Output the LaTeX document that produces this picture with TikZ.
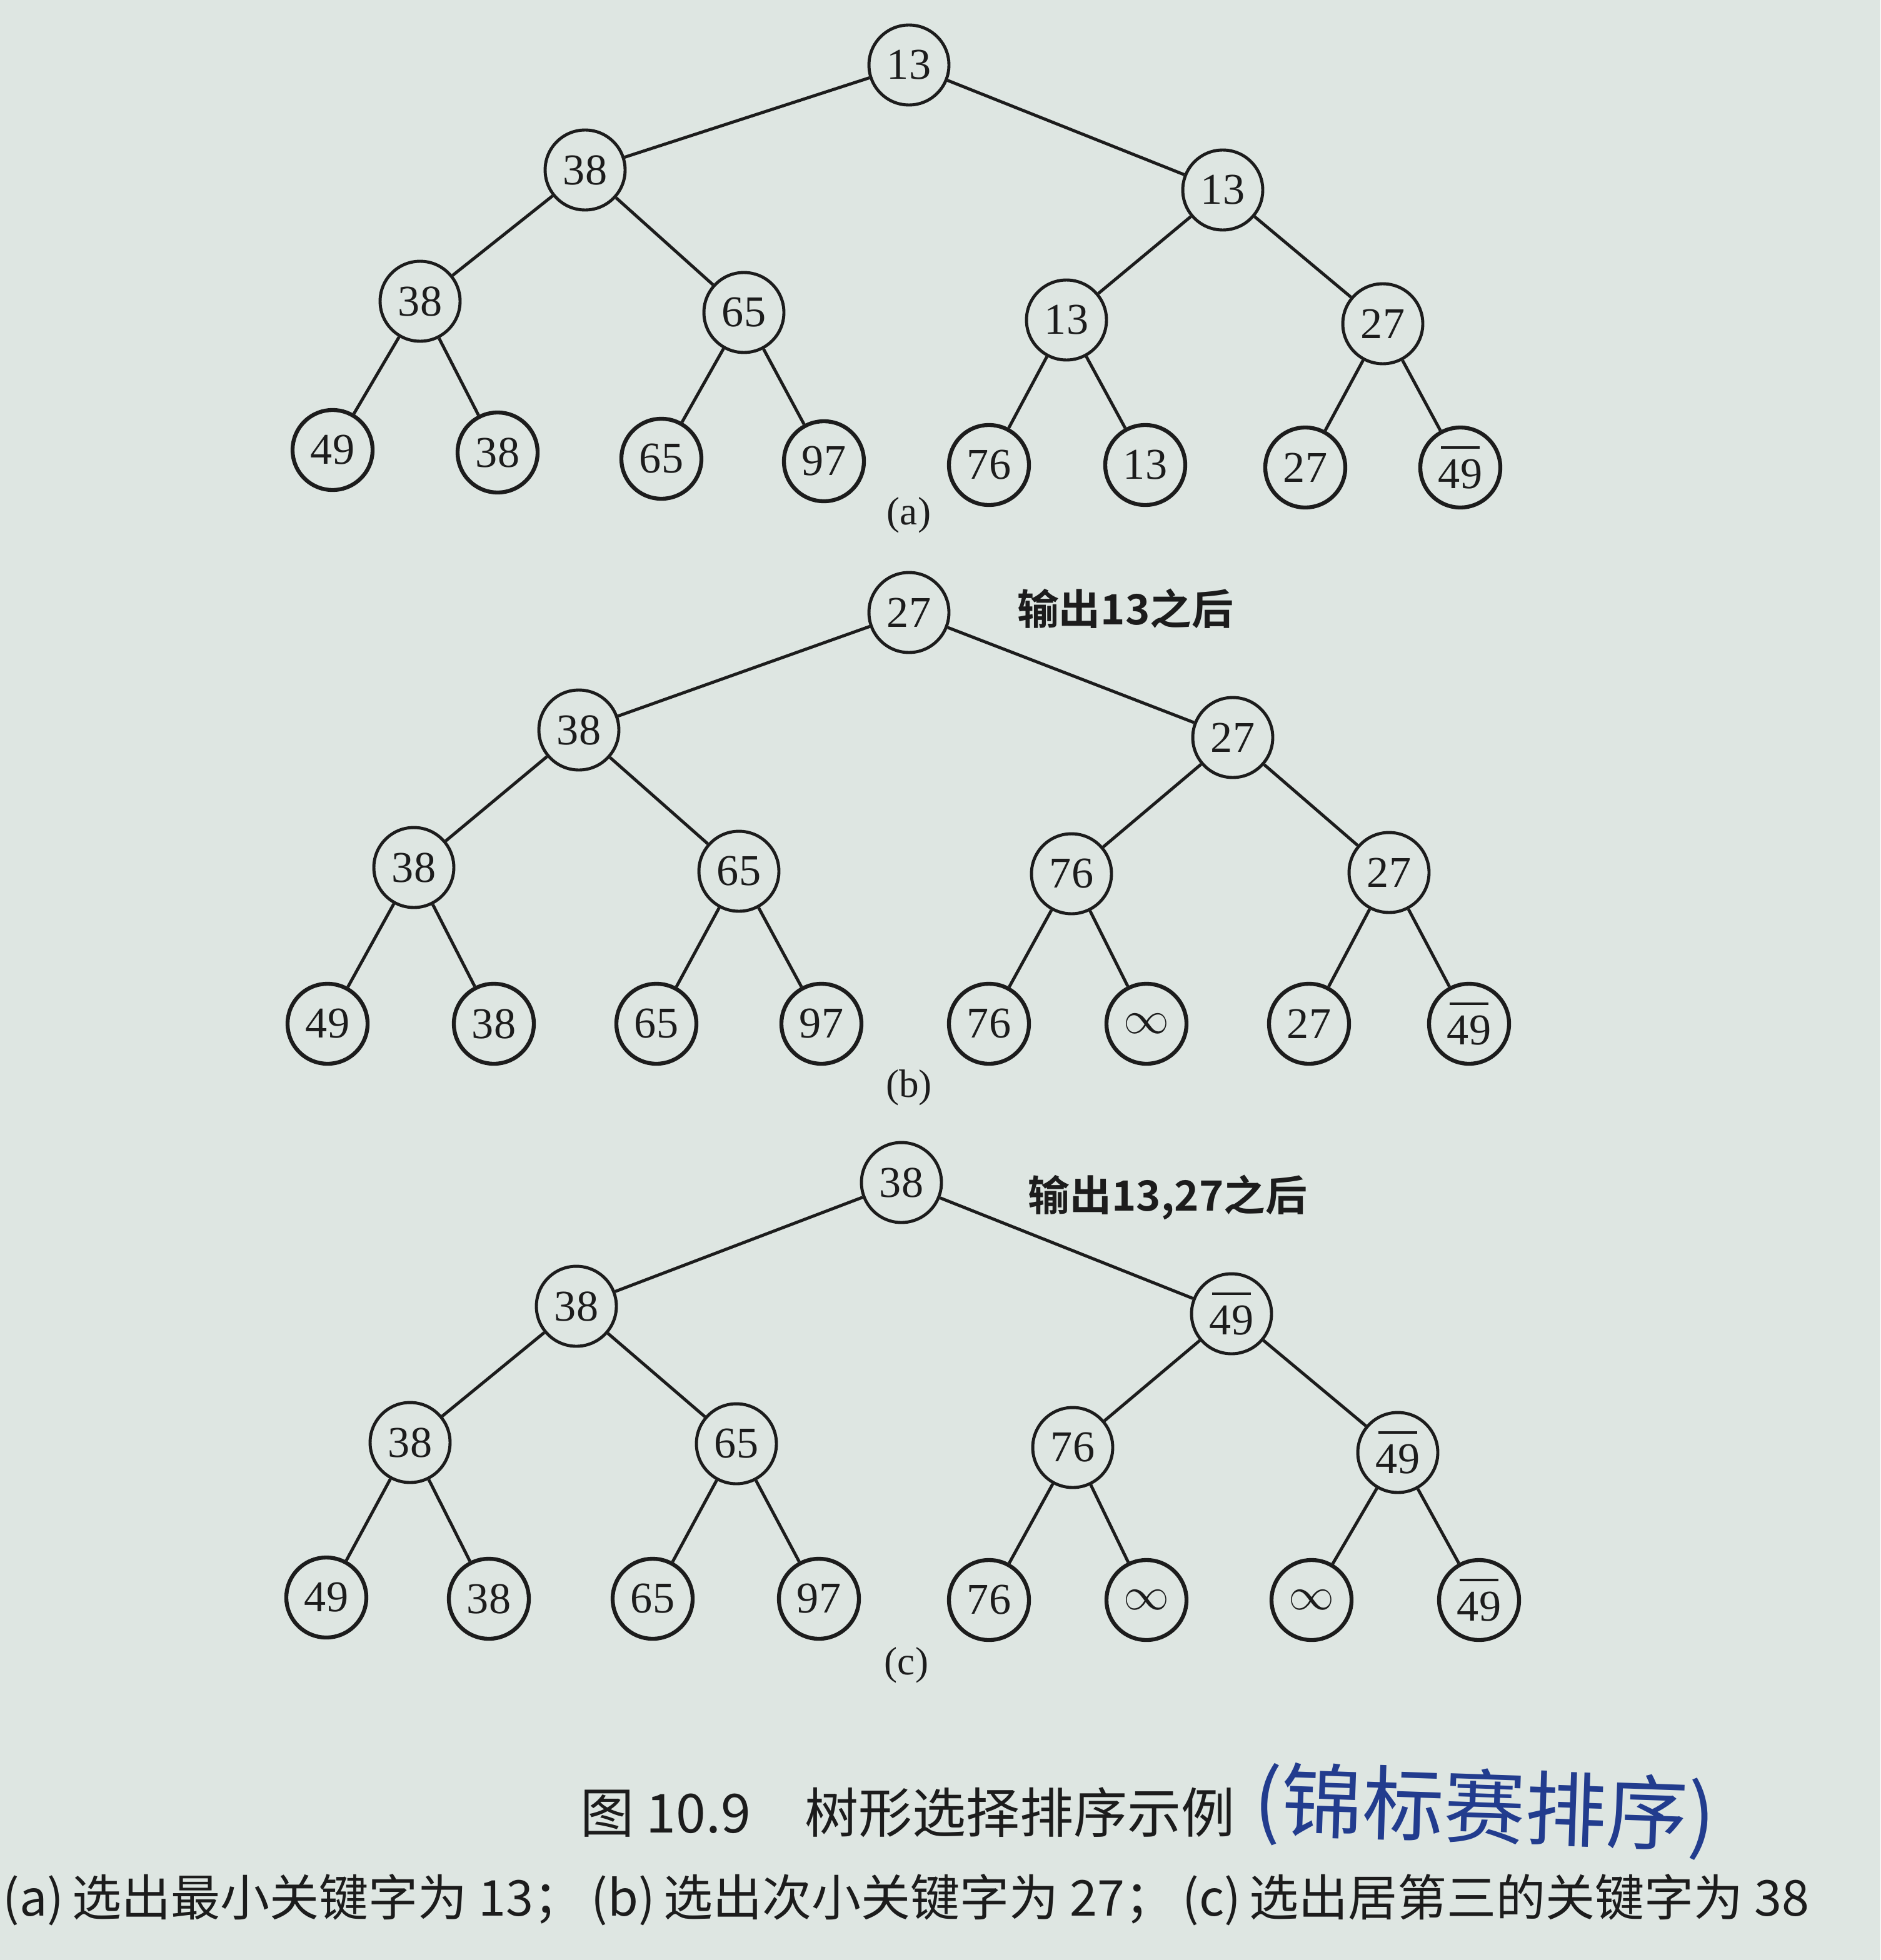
\documentclass[tikz,border=0pt]{standalone}
\usepackage{fontspec}
\setmainfont{Liberation Serif}
\newfontfamily\cjk{Noto Sans CJK SC}
\newfontfamily\cjkbold{Noto Sans CJK SC Bold}
\usetikzlibrary{positioning}
\definecolor{paper}{HTML}{DEE6E2}
\definecolor{ink}{HTML}{1C1C1C}
\definecolor{pen}{HTML}{223C8E}
\tikzset{key/.style={circle,draw=ink,line width=1.4pt,minimum size=1.28cm,inner sep=0pt,text=ink,font=\fontsize{20}{22}\selectfont},
leaf/.style={key,line width=1.8pt},
edge/.style={draw=ink,line width=1.4pt},
tag/.style={text=ink,font=\fontsize{18}{20}\selectfont},
note/.style={text=ink,font=\cjkbold\fontsize{19}{22}\selectfont},
figcap/.style={text=ink,font=\cjk\fontsize{24.5}{27}\selectfont}}
\newlength{\keywd}
\newcommand{\barkey}[1]{\settowidth{\keywd}{#1}\makebox[0pt][l]{\hspace{0.06em}\rule[0.9em]{\dimexpr\keywd-0.12em}{1.1pt}}#1}
\begin{document}
\begin{tikzpicture}[x=0.02cm,y=-0.02cm]
\fill[paper] (0,0) rectangle (1504,1568);
\useasboundingbox (0,0) rectangle (1504,1568);
% (a)
\node[key] (a1) at (727,52) {13};
\node[key] (a2) at (468,136) {38};
\node[key] (a3) at (978,152) {13};
\node[key] (a4) at (336,241) {38};
\node[key] (a5) at (595,250) {65};
\node[key] (a6) at (853,256) {13};
\node[key] (a7) at (1106,259) {27};
\node[leaf] (a8) at (266,360) {49};
\node[leaf] (a9) at (398,362) {38};
\node[leaf] (a10) at (529,367) {65};
\node[leaf] (a11) at (659,369) {97};
\node[leaf] (a12) at (791,372) {76};
\node[leaf] (a13) at (916,372) {13};
\node[leaf] (a14) at (1044,374) {27};
\node[leaf] (a15) at (1168,374) {\barkey{49}};
\node[tag] (la) at (727,412) {(a)};
% (b)
\node[key] (b1) at (727,490) {27};
\node[note] (nb) at (900,487) {输出13之后};
\node[key] (b2) at (463,584) {38};
\node[key] (b3) at (986,590) {27};
\node[key] (b4) at (331,694) {38};
\node[key] (b5) at (591,697) {65};
\node[key] (b6) at (857,699) {76};
\node[key] (b7) at (1111,698) {27};
\node[leaf] (b8) at (262,819) {49};
\node[leaf] (b9) at (395,819) {38};
\node[leaf] (b10) at (525,819) {65};
\node[leaf] (b11) at (657,819) {97};
\node[leaf] (b12) at (791,819) {76};
\node[leaf] (b13) at (917,819) {$\infty$};
\node[leaf] (b14) at (1047,819) {27};
\node[leaf] (b15) at (1175,819) {\barkey{49}};
\node[tag] (lb) at (727,870) {(b)};
% (c)
\node[key] (c1) at (721,946) {38};
\node[note] (nc) at (934,958) {输出13,27之后};
\node[key] (c2) at (461,1045) {38};
\node[key] (c3) at (985,1051) {\barkey{49}};
\node[key] (c4) at (328,1154) {38};
\node[key] (c5) at (589,1155) {65};
\node[key] (c6) at (858,1158) {76};
\node[key] (c7) at (1118,1162) {\barkey{49}};
\node[leaf] (c8) at (261,1278) {49};
\node[leaf] (c9) at (391,1279) {38};
\node[leaf] (c10) at (522,1279) {65};
\node[leaf] (c11) at (655,1279) {97};
\node[leaf] (c12) at (791,1280) {76};
\node[leaf] (c13) at (917,1280) {$\infty$};
\node[leaf] (c14) at (1049,1280) {$\infty$};
\node[leaf] (c15) at (1183,1280) {\barkey{49}};
\node[tag] (lc) at (725,1332) {(c)};
% edges
\foreach \t in {a,b,c}{
  \foreach \i in {1,...,7}{
    \pgfmathtruncatemacro{\l}{2*\i}\pgfmathtruncatemacro{\r}{2*\i+1}
    \draw[edge] (\t\i)--(\t\l);\draw[edge] (\t\i)--(\t\r);
  }
}
% captions
\node[figcap,anchor=west] (fig) at (458,1450) {图 10.9\hspace{1em}树形选择排序示例};
\node[text=pen,font=\cjk\fontsize{37}{41}\selectfont,anchor=west,rotate=-2] (hand) at (997,1442) {(锦标赛排序)};
\node[figcap,anchor=west,font=\cjk\fontsize{22.5}{25}\selectfont] (sub) at (-4,1520) {(a)\,选出最小关键字为 13；\,(b)\,选出次小关键字为 27；\,(c)\,选出居第三的关键字为 38};
\end{tikzpicture}
\end{document}
